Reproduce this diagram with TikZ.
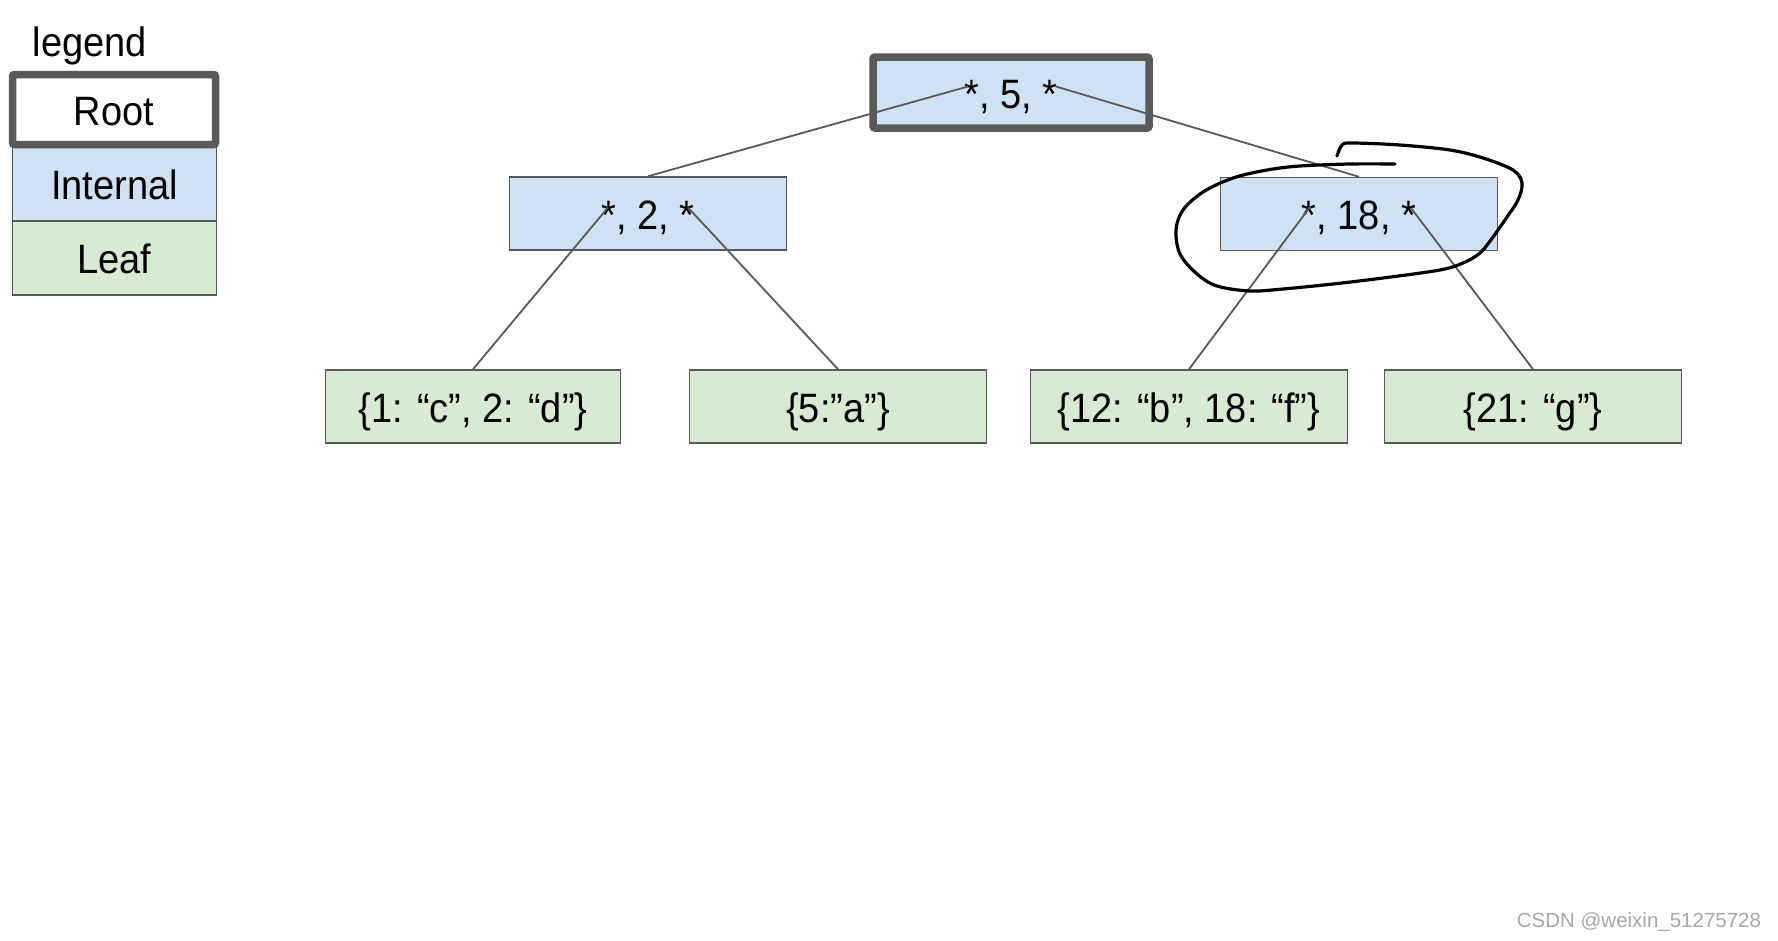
\documentclass[tikz,border=0pt]{standalone}
\usepackage{fontspec}
\setmainfont{Liberation Sans}
\usetikzlibrary{calc}
\definecolor{bord}{HTML}{595959}
\definecolor{intfill}{HTML}{CFE2F3}
\definecolor{leaffill}{HTML}{D9EAD3}
\definecolor{wmark}{HTML}{A8A8A8}
\newcommand{\boxtext}[1]{\scalebox{1}[1.08]{#1}}
\begin{document}
\begin{tikzpicture}[x=1pt,y=-1pt,
  txt/.style={font=\fontsize{38}{44}\selectfont},
  box/.style={txt,draw=bord,line width=1.5pt,inner sep=0pt,text height=31pt,text depth=0pt},
  internal/.style={box,fill=intfill,minimum width=277pt,minimum height=73pt},
  leaf/.style={box,fill=leaffill,minimum height=73pt},
  rootbox/.style={line width=7.5pt,rounded corners=2pt},
  conn/.style={draw=bord,line width=1.8pt},
  loopline/.style={draw=black,line width=3.2pt,line cap=round,line join=round}]
\useasboundingbox (0,0) rectangle (1778,940);
\fill[white] (0,0) rectangle (1778,940);

% legend
\node[txt] (legendlbl) at (90,46) {\boxtext{legend}};
\node[box,fill=leaffill,minimum width=204pt,minimum height=74pt] (lgleaf) at (114.5,258) {\boxtext{Leaf}};
\node[box,fill=intfill,minimum width=204pt,minimum height=74pt] (lgint) at (114.5,184) {\boxtext{Internal}};
\node[box,rootbox,fill=white,minimum width=203pt,minimum height=70pt] (lgroot) at (114,109.5) {\boxtext{Root}};

% tree nodes
\node[internal,rootbox,minimum width=276pt,minimum height=71pt] (root) at (1011,92.5) {\boxtext{*, 5, *}};
\node[internal] (intL) at (648,213.5) {\boxtext{*, 2, *}};
\node[internal] (intR) at (1359,214) {\boxtext{*, 18, *}};
\node[leaf,minimum width=295pt] (leaf1) at (473,406.5) {\boxtext{\{1: “c”, 2: “d”\}}};
\node[leaf,minimum width=297pt] (leaf2) at (838,406.5) {\boxtext{\{5:”a”\}}};
\node[leaf,minimum width=317pt] (leaf3) at (1189,406.5) {\boxtext{\{12: “b”, 18: “f”\}}};
\node[leaf,minimum width=297pt] (leaf4) at (1533,406.5) {\boxtext{\{21: “g”\}}};

% pointer positions (asterisks)
\coordinate (rootA) at ($(root.center)+(-43,-6)$);
\coordinate (rootB) at ($(root.center)+(45,-6)$);
\coordinate (intLA) at ($(intL.center)+(-40,-6)$);
\coordinate (intLB) at ($(intL.center)+(40,-6)$);
\coordinate (intRA) at ($(intR.center)+(-49,-7)$);
\coordinate (intRB) at ($(intR.center)+(52,-6)$);

% connectors
\draw[conn] (rootA) -- (intL.north);
\draw[conn] (rootB) -- (intR.north);
\draw[conn] (intLA) -- (leaf1.north);
\draw[conn] (intLB) -- (leaf2.north);
\draw[conn] (intRA) -- (leaf3.north);
\draw[conn] (intRB) -- (leaf4.north);

% hand-drawn loop around the right internal node
\draw[loopline] plot[smooth,tension=0.55] coordinates {
  (1337,156) (1342,145) (1352,143) (1400,145) (1450,150) (1483,158) (1513,170)
  (1522,183) (1518,200) (1507,217) (1493,237) (1480,253) (1463,263) (1440,270)
  (1383,278) (1333,284) (1283,289) (1250,291) (1217,286) (1197,274) (1180,254)
  (1176,230) (1183,210) (1203,192) (1233,178) (1267,170) (1300,166) (1350,164)
  (1395,164)};

% watermark
\node[font=\fontsize{20.5}{24}\selectfont,text=wmark] (wm) at (1639,922) {CSDN @weixin\_51275728};
\end{tikzpicture}
\end{document}
